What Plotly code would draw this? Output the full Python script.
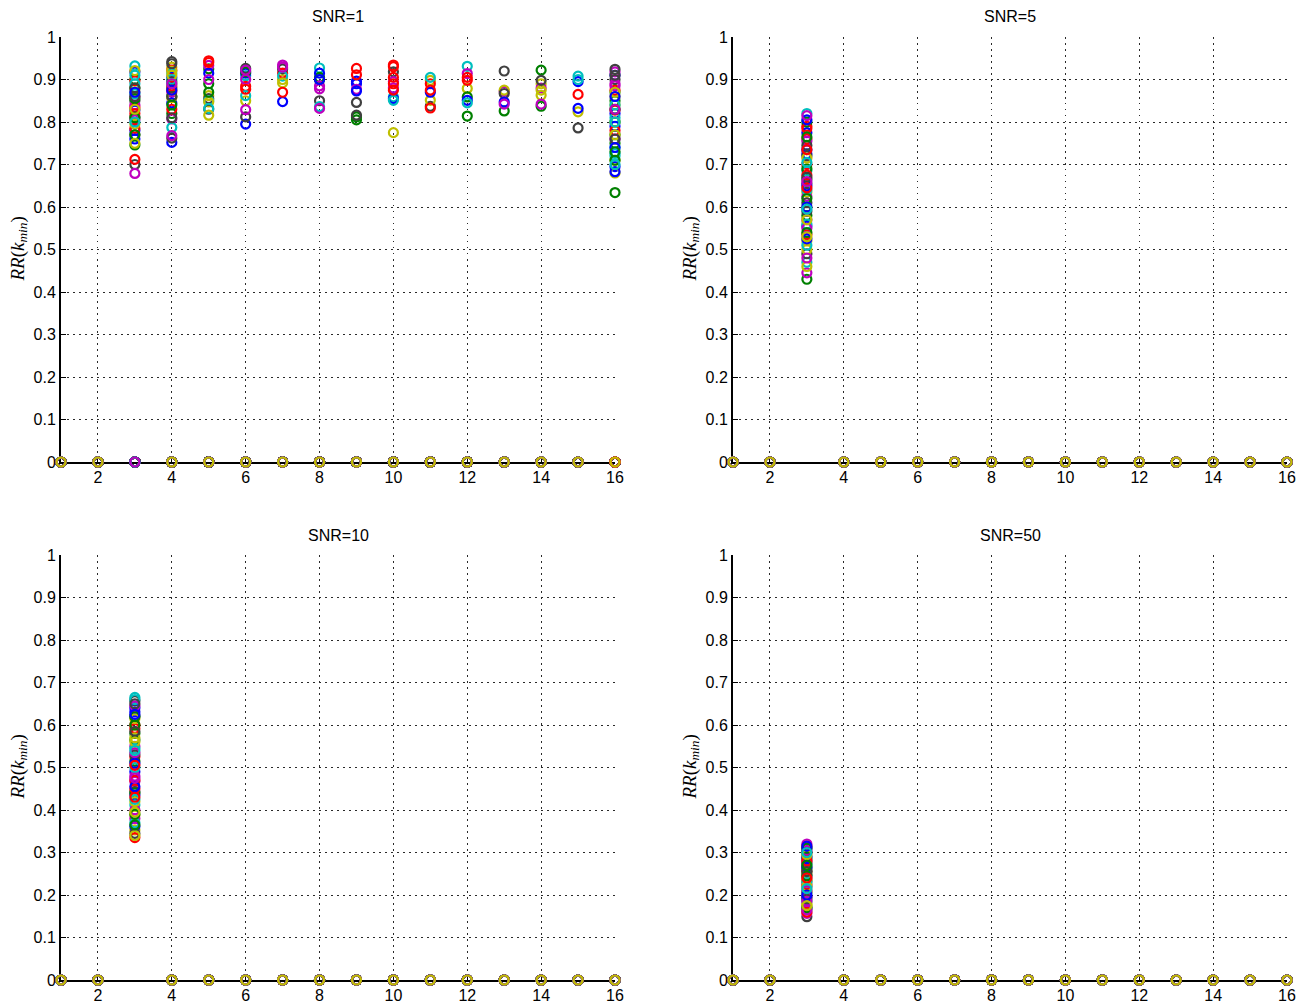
import plotly.graph_objects as go

# k values on the horizontal axis
k_values = list(range(1, 17))
panel_titles = ["SNR=1", "SNR=5", "SNR=10", "SNR=50"]

# SNR=1: k_min and RR(k_min) of each run, in the order the runs were plotted
snr1_kmin = [
    3, 3, 3, 3, 3, 4, 4,
    4, 5, 4, 4, 5, 5, 3,
    16, 4, 5, 6, 7, 3, 6,
    5, 16, 10, 8, 4, 7, 13,
    6, 6, 6, 16, 16, 11, 5,
    9, 3, 7, 12, 6, 14, 16,
    3, 8, 9, 5, 8, 4, 4,
    8, 14, 16, 3, 12, 16, 10,
    16, 9, 3, 15, 3, 6, 7,
    4, 4, 11, 10, 10, 12, 9,
    7, 16, 4, 4, 13, 3, 3,
    10, 5, 10, 7, 7, 5, 16,
    3, 3, 12, 16, 14, 13, 8,
    15, 12, 5, 11, 16, 14, 4,
    9, 8, 3, 6, 6, 7, 14,
    16, 16, 15, 3, 9, 16, 11,
    12, 13, 9, 8, 5, 4, 5,
    6, 4, 10, 15, 4, 11, 13,
    4, 9, 6, 5, 8, 10, 3,
    13, 3, 4, 10, 3, 14, 6,
    8, 16, 16, 12, 16, 15, 9,
    16, 5, 3, 16, 10, 5, 15,
    11, 12, 11, 4, 13, 16, 4,
    3, 14, 7, 16, 6, 3, 3,
    15, 16, 10, 16, 14, 16, 3,
    9, 3, 12, 3, 8, 4, 3,
    16, 3, 4, 3, 4, 16, 4,
    3, 4, 16, 4, 16, 16, 4,
    4, 16, 11, 16, 3, 16, 16,
    16, 16, 10, 16, 4, 3, 16,
    16, 16, 3, 16, 16, 3,
]
snr1_rr = [
    0.918, 0.900, 0.897, 0.932, 0.860, 0.929, 0.942,
    0.905, 0.925, 0.922, 0.915, 0.933, 0.862, 0.850,
    0.910, 0.880, 0.944, 0.909, 0.934, 0.921, 0.926,
    0.915, 0.850, 0.934, 0.927, 0.870, 0.900, 0.920,
    0.915, 0.918, 0.884, 0.870, 0.918, 0.898, 0.855,
    0.896, 0.880, 0.915, 0.931, 0.922, 0.890, 0.924,
    0.828, 0.905, 0.926, 0.850, 0.885, 0.920, 0.937,
    0.915, 0.922, 0.875, 0.890, 0.914, 0.860, 0.918,
    0.820, 0.812, 0.835, 0.908, 0.840, 0.850, 0.925,
    0.845, 0.860, 0.890, 0.859, 0.895, 0.879, 0.846,
    0.848, 0.800, 0.885, 0.900, 0.872, 0.871, 0.812,
    0.855, 0.890, 0.930, 0.908, 0.929, 0.847, 0.900,
    0.780, 0.855, 0.905, 0.810, 0.880, 0.875, 0.850,
    0.895, 0.859, 0.940, 0.905, 0.890, 0.875, 0.895,
    0.890, 0.900, 0.820, 0.862, 0.900, 0.892, 0.898,
    0.790, 0.770, 0.865, 0.866, 0.877, 0.840, 0.837,
    0.851, 0.826, 0.911, 0.836, 0.900, 0.857, 0.830,
    0.795, 0.820, 0.905, 0.900, 0.807, 0.851, 0.867,
    0.752, 0.805, 0.877, 0.832, 0.878, 0.775, 0.770,
    0.847, 0.746, 0.875, 0.851, 0.805, 0.863, 0.812,
    0.900, 0.750, 0.828, 0.845, 0.885, 0.824, 0.816,
    0.695, 0.870, 0.785, 0.740, 0.880, 0.816, 0.786,
    0.870, 0.814, 0.875, 0.787, 0.842, 0.710, 0.762,
    0.760, 0.837, 0.870, 0.726, 0.829, 0.795, 0.700,
    0.832, 0.634, 0.890, 0.720, 0.842, 0.680, 0.880,
    0.873, 0.770, 0.898, 0.910, 0.832, 0.910, 0.860,
    0.683, 0.810, 0.830, 0.800, 0.768, 0.870, 0.860,
    0.870, 0.840, 0.780, 0.890, 0.760, 0.800, 0.810,
    0.875, 0.830, 0.833, 0.840, 0.679, 0.770, 0.910,
    0.860, 0.710, 0.875, 0.800, 0.890, 0.830, 0.760,
    0.740, 0.730, 0.712, 0.700, 0.830, 0.750,
]

# SNR=5, 10 and 50: every run reaches k_min at k=3
snr5_rr = [
    0.735, 0.430, 0.790, 0.820, 0.445, 0.635, 0.655,
    0.775, 0.665, 0.760, 0.470, 0.625, 0.600, 0.490,
    0.555, 0.800, 0.700, 0.685, 0.570, 0.520, 0.610,
    0.725, 0.580, 0.535, 0.640, 0.755, 0.500, 0.720,
    0.650, 0.690, 0.785, 0.560, 0.550, 0.715, 0.590,
    0.805, 0.620, 0.675, 0.510, 0.815, 0.460, 0.745,
    0.600, 0.540, 0.735, 0.705, 0.480, 0.570, 0.670,
    0.525, 0.765, 0.645, 0.595, 0.660, 0.530,
]
snr10_rr = [
    0.631, 0.580, 0.592, 0.665, 0.550, 0.615, 0.657,
    0.490, 0.565, 0.525, 0.545, 0.467, 0.388, 0.443,
    0.435, 0.515, 0.600, 0.412, 0.480, 0.353, 0.620,
    0.361, 0.440, 0.335, 0.500, 0.400, 0.570, 0.345,
    0.640, 0.620, 0.470, 0.660, 0.380, 0.420, 0.530,
    0.510, 0.600, 0.450, 0.370, 0.645, 0.340, 0.585,
    0.455, 0.390, 0.505, 0.425, 0.535, 0.560, 0.650,
    0.625, 0.365, 0.430, 0.540, 0.475, 0.395,
]
snr50_rr = [
    0.310, 0.233, 0.300, 0.272, 0.320, 0.180, 0.275,
    0.247, 0.260, 0.196, 0.290, 0.240, 0.210, 0.149,
    0.220, 0.285, 0.315, 0.255, 0.157, 0.176, 0.265,
    0.290, 0.205, 0.255, 0.185, 0.305, 0.235, 0.170,
    0.195, 0.310, 0.225, 0.165, 0.280, 0.250, 0.300,
    0.265, 0.170, 0.280, 0.230, 0.210, 0.295, 0.190,
    0.315, 0.245, 0.160, 0.300, 0.185, 0.220, 0.255,
    0.200, 0.270, 0.240, 0.215, 0.165, 0.175,
]
snr5_kmin = [3] * len(snr5_rr)
snr10_kmin = [3] * len(snr10_rr)
snr50_kmin = [3] * len(snr50_rr)

panels = [
    (snr1_kmin, snr1_rr),
    (snr5_kmin, snr5_rr),
    (snr10_kmin, snr10_rr),
    (snr50_kmin, snr50_rr),
]

# default line colour order of the plotting program
color_cycle = ["#0000FF", "#008000", "#FF0000", "#00BFBF",
               "#BF00BF", "#BFBF00", "#404040"]

W, H = 1306, 1005
x_domains = [(61 / W, 615 / W), (733 / W, 1287 / W)]
y_domains = [(1 - 462 / H, 1 - 37 / H), (1 - 980 / H, 1 - 555 / H)]

tick_font = dict(family="Liberation Sans, Arial, sans-serif", size=16, color="black")
grid_style = dict(showgrid=True, gridcolor="#2a2a2a", gridwidth=1, griddash="1.5px,4.5px")

fig = go.Figure()
layout = dict(
    width=W, height=H,
    margin=dict(l=0, r=0, t=0, b=0, pad=0, autoexpand=False),
    paper_bgcolor="white", plot_bgcolor="white",
    showlegend=False,
    annotations=[],
)

for i, (kmin, rr) in enumerate(panels):
    row, col = divmod(i, 2)
    suffix = "" if i == 0 else str(i + 1)
    xs, ys, cs = [], [], []
    for run, (km, v) in enumerate(zip(kmin, rr)):
        colour = color_cycle[run % len(color_cycle)]
        for k in k_values:
            xs.append(k)
            ys.append(v if k == km else 0.0)
            cs.append(colour)
    fig.add_trace(go.Scatter(
        x=xs, y=ys, mode="markers",
        xaxis="x" + suffix, yaxis="y" + suffix,
        cliponaxis=False, hoverinfo="skip",
        marker=dict(symbol="circle-open", size=9, color=cs, line=dict(width=2.2)),
    ))

    layout["xaxis" + suffix] = dict(
        domain=x_domains[col], anchor="y" + suffix,
        range=[1, 16], tick0=0, dtick=2,
        ticks="inside", ticklen=5, tickwidth=1, tickcolor="black",
        showline=True, linecolor="black", linewidth=2,
        zeroline=False, layer="below traces", automargin=False,
        tickfont=tick_font, **grid_style,
    )
    layout["yaxis" + suffix] = dict(
        domain=y_domains[row], anchor="x" + suffix,
        range=[0, 1], tick0=0, dtick=0.1,
        ticks="inside", ticklen=5, tickwidth=1, tickcolor="black",
        showline=True, linecolor="black", linewidth=2,
        zeroline=False, layer="below traces", automargin=False,
        tickfont=tick_font, **grid_style,
    )

    xc = (x_domains[col][0] + x_domains[col][1]) / 2
    top_px = 17 if row == 0 else 535
    layout["annotations"].append(dict(
        text=panel_titles[i], xref="paper", yref="paper",
        x=xc, y=1 - top_px / H, xanchor="center", yanchor="middle",
        showarrow=False,
        font=dict(family="Liberation Sans, Arial, sans-serif", size=16, color="black"),
    ))
    ymid = (y_domains[row][0] + y_domains[row][1]) / 2
    label_x = (18 if col == 0 else 690) / W
    layout["annotations"].append(dict(
        text="<i>RR</i>(<i>k</i><sub><i>min</i></sub>)",
        xref="paper", yref="paper", x=label_x, y=ymid,
        xanchor="center", yanchor="middle", textangle=-90, showarrow=False,
        font=dict(family="Liberation Serif, Times New Roman, serif", size=19, color="black"),
    ))

fig.update_layout(**layout)
fig.write_html("out.html")
